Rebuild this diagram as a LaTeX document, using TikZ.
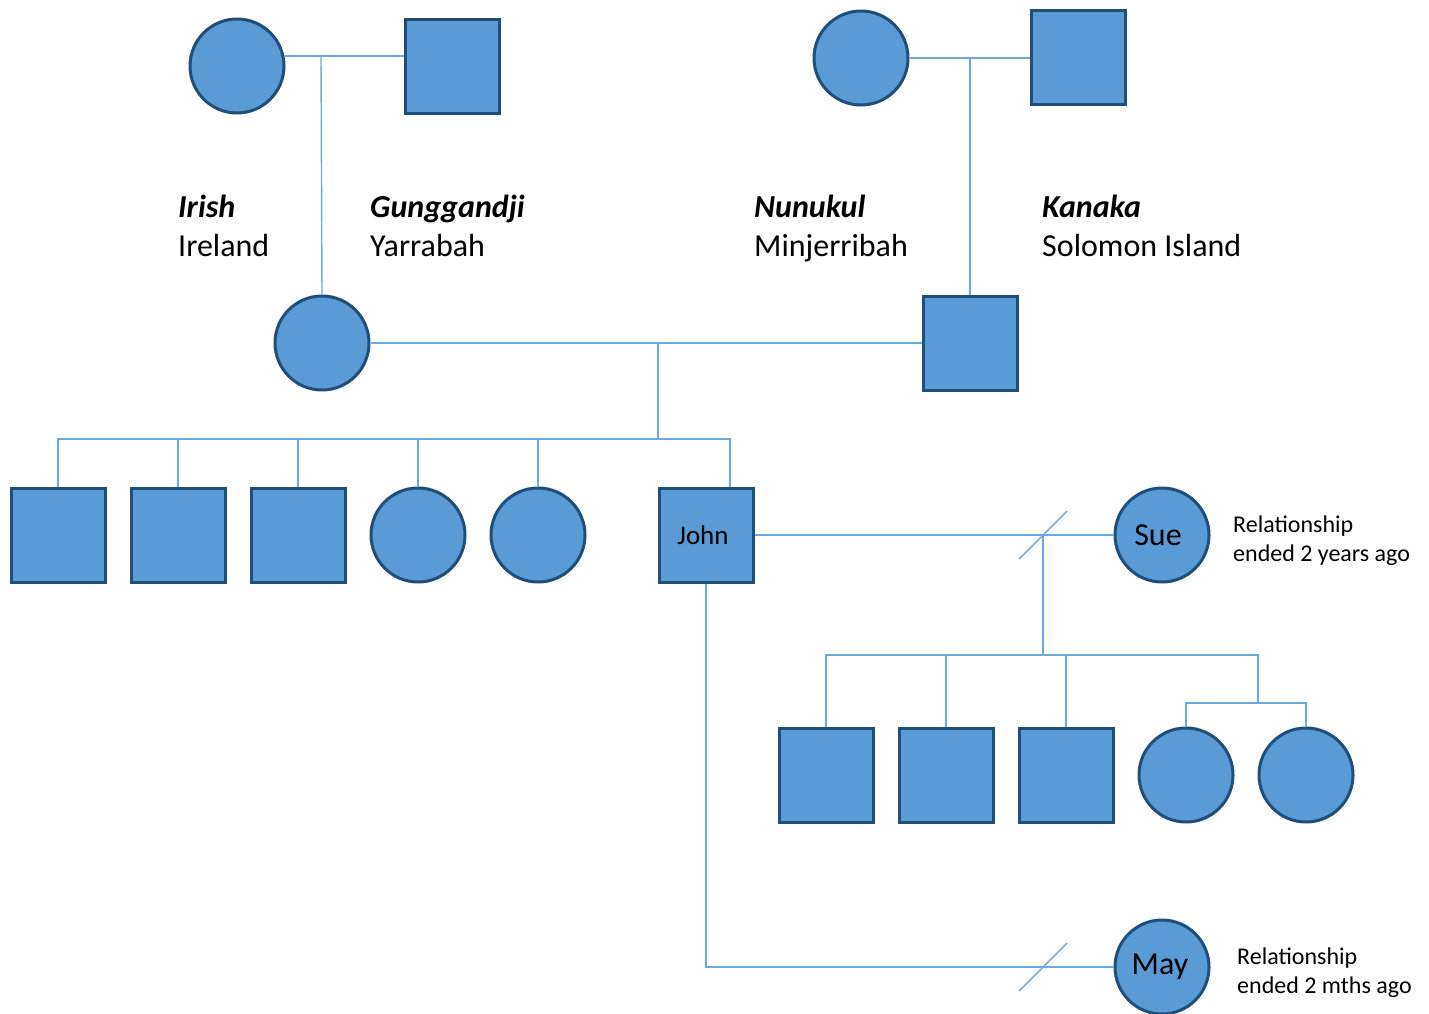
\documentclass[tikz,border=0pt]{standalone}
\usepackage{fontspec}
\setmainfont{Carlito}
\usetikzlibrary{calc}
\definecolor{fillblue}{HTML}{5B9BD5}
\definecolor{edgeblue}{HTML}{1F4E79}
\definecolor{lineblue}{HTML}{6FA8DC}
\tikzset{
  person/.style={fill=fillblue, draw=edgeblue, line width=3pt, inner sep=0pt, minimum size=94pt, font=\fontsize{32}{39}\selectfont},
  male/.style={person, rectangle},
  female/.style={person, circle},
  conn/.style={draw=lineblue, line width=1.4pt},
  lbl/.style={anchor=base west, align=left, inner sep=0pt, font=\fontsize{32}{39}\selectfont},
  note/.style={anchor=base west, align=left, inner sep=0pt, font=\fontsize{24}{29}\selectfont}
}
\begin{document}
\begin{tikzpicture}[x=1pt, y=-1pt]
\useasboundingbox (0,0) rectangle (1429,1014);
% generation 1
\node[female] (c1) at (237,66) {};
\node[male]   (s1) at (452.5,66.5) {};
\node[female] (c2) at (861,58) {};
\node[male]   (s2) at (1078,58) {};
% generation 2
\node[female] (d1) at (322,343) {};
\node[male]   (s3) at (970,343) {};
% generation 3
\node[male]   (k1) at (58,535) {};
\node[male]   (k2) at (178,535) {};
\node[male]   (k3) at (298,535) {};
\node[female] (k4) at (418,535) {};
\node[female] (k5) at (538,535) {};
\node[male, font=\fontsize{27}{32}\selectfont] (j) at (706,535) {\hspace*{-6pt}\raisebox{-2pt}{John}};
\node[female] (sue) at (1162,535) {\hspace*{-8pt}\raisebox{-3pt}{Sue}};
\node[female] (may) at (1162,967) {\hspace*{-4pt}\raisebox{-2pt}{May}};
% generation 4
\node[male]   (g1) at (826,775) {};
\node[male]   (g2) at (946,775) {};
\node[male]   (g3) at (1066,775) {};
\node[female] (g4) at (1186,775) {};
\node[female] (g5) at (1306,775) {};

% labels (base anchor = baseline of last line)
\node[lbl] (t1) at (178,256) {\textbf{\textit{Irish}}\\Ireland};
\node[lbl] (t2) at (370,256) {\textbf{\textit{Gunggandji}}\\Yarrabah};
\node[lbl] (t3) at (754,256) {\textbf{\textit{Nunukul}}\\Minjerribah};
\node[lbl] (t4) at (1042,256) {\textbf{\textit{Kanaka}}\\Solomon Island};
\node[note] (n1) at (1233,561) {Relationship\\ended 2 years ago};
\node[note] (n2) at (1237,993) {Relationship\\ended 2 mths ago};

% coordinates
\coordinate (m1) at (321,56);
\coordinate (m2) at (970,58);
\coordinate (m3) at (658,343);
\coordinate (sb) at (658,439);
\coordinate (jt) at (730,487);
\coordinate (div1) at (1043,535);
\coordinate (gb) at (1043,655);
\coordinate (tw) at (1258,655);
\coordinate (tw2) at (1258,703);
\coordinate (div2) at (1043,967);

% marriages gen 1
\draw[conn] (c1.12) -- (c1.12 -| s1.west);
\draw[conn] (m1) -- (d1.north);
\draw[conn] (c2.east) -- (s2.west);
\draw[conn] (m2) -- (s3.north);
% marriage gen 2
\draw[conn] (d1.east) -- (s3.west);
\draw[conn] (m3) -- (sb);
\draw[conn] (k1.north) |- (sb) -| (jt);
\foreach \k in {k2,k3,k4,k5} \draw[conn] (\k.north) -- (\k.north |- sb);
% John and Sue
\draw[conn] (j.east) -- (sue.west);
\draw[conn] ($(div1)+(-24,24)$) -- ($(div1)+(24,-24)$);
\draw[conn] (div1) -- (gb);
\draw[conn] (g1.north) |- (tw) -- (tw2);
\foreach \k in {g2,g3} \draw[conn] (\k.north) -- (\k.north |- gb);
\draw[conn] (g4.north) |- (tw2) -| (g5.north);
% John and May
\draw[conn] (j.south) |- (may.west);
\draw[conn] ($(div2)+(-24,24)$) -- ($(div2)+(24,-24)$);
\end{tikzpicture}
\end{document}
